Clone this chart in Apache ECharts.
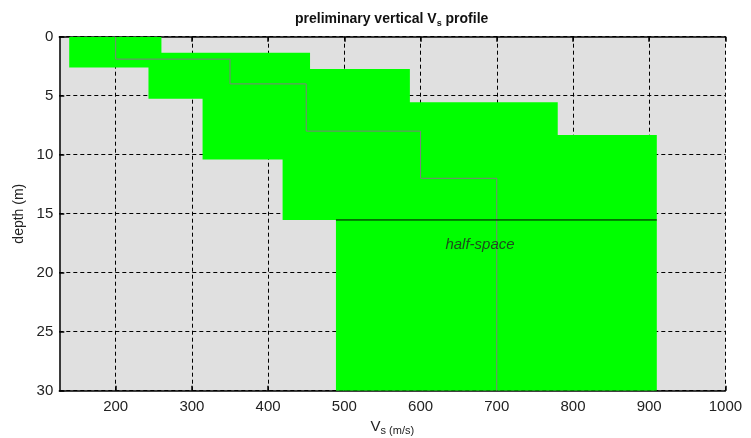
<!DOCTYPE html>
<html>
<head>
<meta charset="utf-8">
<script src="https://cdn.jsdelivr.net/npm/echarts@6/dist/echarts.min.js"></script>
<style>
  html, body { margin: 0; padding: 0; background: #ffffff; }
  #chart { width: 751px; height: 438px; }
</style>
</head>
<body>
<div id="chart"></div>
<script>
// Layer boxes: range of shear-wave velocity (m/s) and depth (m) for each layer
const boxVsMin   = [139, 243, 314, 419, 489];
const boxVsMax   = [260, 455, 586, 780, 910];
const boxTop     = [0, 1.35, 2.74, 5.55, 8.33];
const boxBottom  = [2.6, 5.25, 10.4, 15.53, 30];

// Preliminary step profile: velocity of each layer and depth of its interfaces
const layerVs     = [200, 350, 450, 600, 700];
const layerBottom = [1.9, 4, 8, 12, 30];

// Half-space top boundary
const halfSpaceDepth = 15.53;
const halfSpaceVs    = [489, 910];
const halfSpaceLabel = { vs: 678, depth: 17.6, text: 'half-space' };

// Axis ticks
const vsTicks    = [200, 300, 400, 500, 600, 700, 800, 900, 1000];
const depthTicks = [0, 5, 10, 15, 20, 25, 30];

const FONT = 'Arial, "Liberation Sans", Helvetica, sans-serif';

// Build step-line vertices from the layer arrays
const profilePts = [];
let prevDepth = 0;
for (let i = 0; i < layerVs.length; i++) {
  profilePts.push([layerVs[i], prevDepth]);
  profilePts.push([layerVs[i], layerBottom[i]]);
  prevDepth = layerBottom[i];
}

const boxData = boxVsMin.map((v, i) => [v, boxVsMax[i], boxTop[i], boxBottom[i]]);

const chart = echarts.init(document.getElementById('chart'), null, { renderer: 'canvas' });

const gridDash = { color: '#000', width: 1, type: [4, 3] };

chart.setOption({
  animation: false,
  backgroundColor: '#ffffff',
  title: {
    left: 290,
    top: 6,
    text: '{a|preliminary vertical V}{s|s}{a| profile}',
    textStyle: {
      rich: {
        a: { fontFamily: FONT, fontSize: 14, fontWeight: 'bold', color: '#111' },
        s: { fontFamily: FONT, fontSize: 9, fontWeight: 'bold', color: '#111', padding: [8, 0, 0, 0] }
      }
    }
  },
  grid: {
    left: 59.3, right: 25.6, top: 36.7, bottom: 47.3,
    outerBoundsMode: 'none',
    containLabel: false,
    show: true, backgroundColor: '#e0e0e0', borderWidth: 0
  },
  xAxis: [{
    type: 'value',
    min: 126, max: 1000,
    position: 'bottom',
    name: '{v|V}{s|s (m/s)}',
    nameLocation: 'middle',
    nameGap: 23,
    nameTextStyle: {
      rich: {
        v: { fontFamily: FONT, fontSize: 15, color: '#222' },
        s: { fontFamily: FONT, fontSize: 11, color: '#222', padding: [8, 0, 0, 0] }
      }
    },
    axisLine: { show: true, onZero: false, lineStyle: { color: '#000', width: 1.5 } },
    axisTick: { show: true, inside: true, length: 5, customValues: vsTicks, lineStyle: { color: '#000', width: 1.5 } },
    axisLabel: { show: true, customValues: vsTicks, margin: 9, fontFamily: FONT, fontSize: 15, color: '#222',
                 formatter: v => String(v) },
    splitLine: { show: true, lineStyle: gridDash }
  }, {
    type: 'value',
    min: 126, max: 1000,
    position: 'top',
    axisLine: { show: true, onZero: false, lineStyle: { color: '#000', width: 1.5 } },
    axisTick: { show: true, inside: true, length: 5, customValues: vsTicks, lineStyle: { color: '#000', width: 1.5 } },
    axisLabel: { show: false },
    splitLine: { show: false }
  }],
  yAxis: {
    type: 'value',
    inverse: true,
    min: 0, max: 30, interval: 5,
    name: 'depth (m)',
    nameLocation: 'middle',
    nameGap: 32,
    nameRotate: 90,
    nameTextStyle: { fontFamily: FONT, fontSize: 14, color: '#222' },
    axisLine: { show: true, onZero: false, lineStyle: { color: '#000', width: 1.5 } },
    axisTick: { show: true, inside: true, length: 5, lineStyle: { color: '#000', width: 1.5 } },
    axisLabel: { show: true, margin: 6, fontFamily: FONT, fontSize: 15, color: '#222',
                 formatter: v => (depthTicks.indexOf(v) >= 0 ? String(v) : '') },
    splitLine: { show: true, lineStyle: gridDash }
  },
  series: [
    {
      // velocity / depth uncertainty boxes
      type: 'custom',
      z: 2,
      clip: true,
      data: boxData,
      encode: { x: [0, 1], y: [2, 3] },
      renderItem: function (params, api) {
        const p0 = api.coord([api.value(0), api.value(2)]);
        const p1 = api.coord([api.value(1), api.value(3)]);
        const rect = echarts.graphic.clipRectByRect(
          { x: p0[0], y: p0[1], width: p1[0] - p0[0], height: p1[1] - p0[1] },
          { x: params.coordSys.x, y: params.coordSys.y, width: params.coordSys.width, height: params.coordSys.height }
        );
        return rect && { type: 'rect', shape: rect, style: { fill: '#00ff00' } };
      }
    },
    {
      // preliminary step profile
      type: 'line',
      z: 3,
      data: profilePts,
      symbol: 'none',
      lineStyle: { color: '#7f7f7f', width: 1 }
    },
    {
      // top of half-space
      type: 'line',
      z: 4,
      data: halfSpaceVs.map(v => [v, halfSpaceDepth]),
      symbol: 'none',
      lineStyle: { color: '#000', width: 1 }
    },
    {
      type: 'scatter',
      z: 5,
      symbolSize: 0,
      data: [[halfSpaceLabel.vs, halfSpaceLabel.depth]],
      label: {
        show: true, position: 'inside',
        formatter: halfSpaceLabel.text,
        fontFamily: FONT, fontSize: 15, fontStyle: 'italic', color: '#222'
      }
    }
  ]
});
</script>
</body>
</html>
